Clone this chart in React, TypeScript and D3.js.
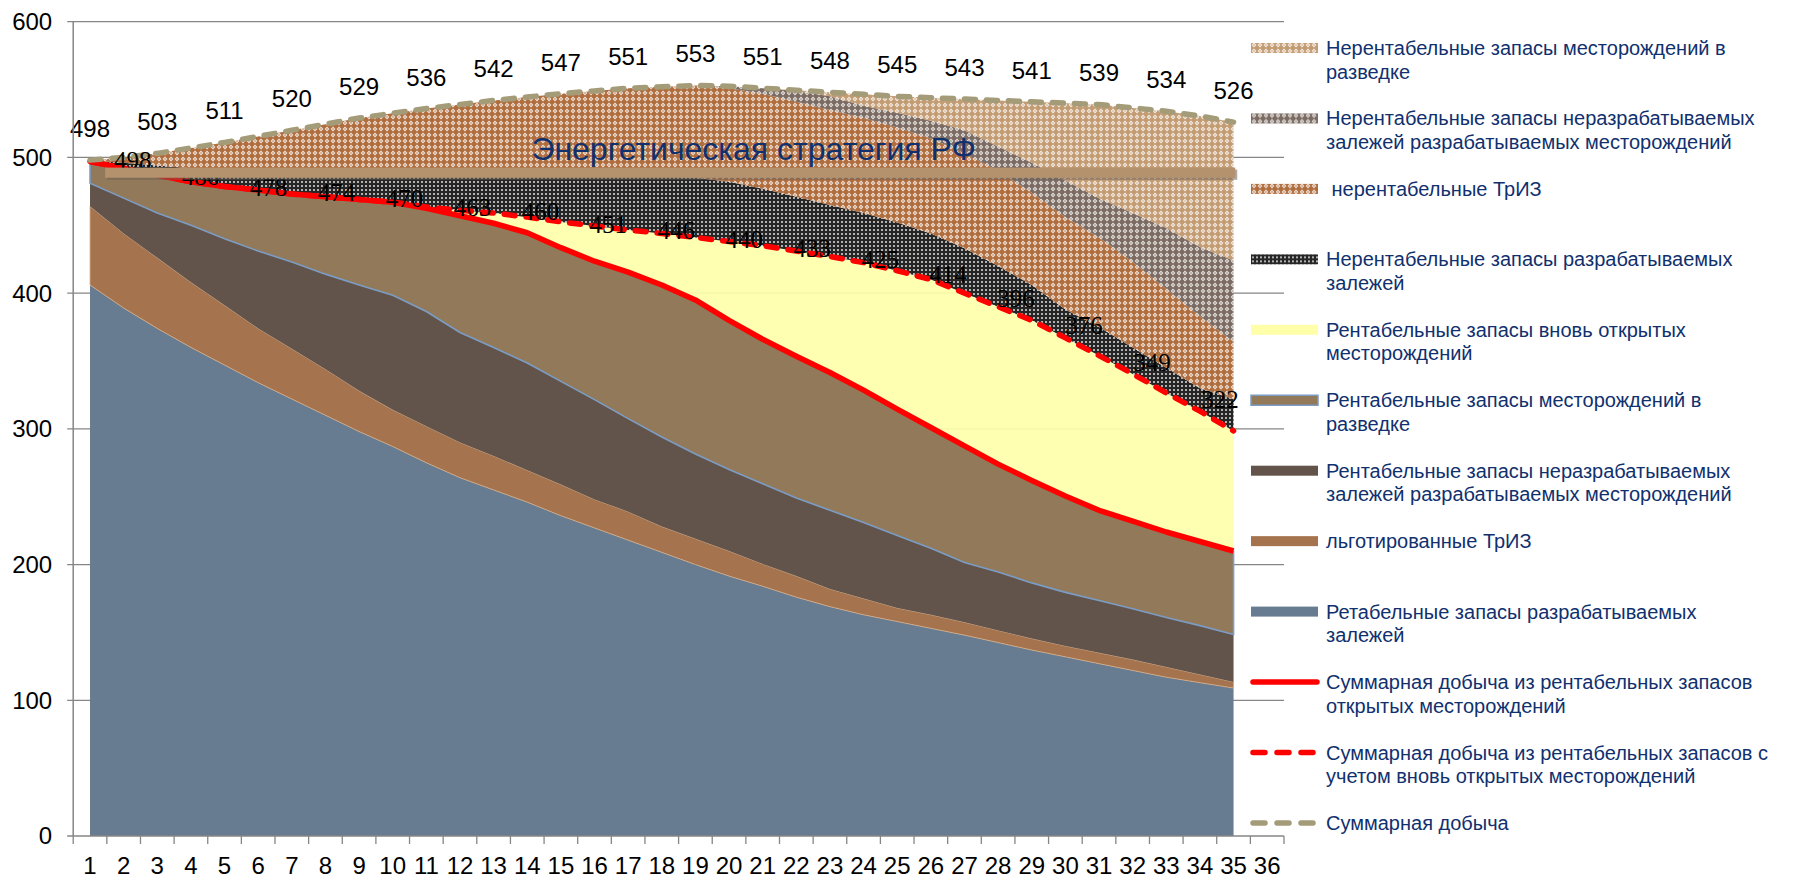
import * as d3 from "d3";
import { useEffect, useRef } from "react";

const categories = [
  "1", "2", "3", "4", "5", "6", "7", "8", "9", "10", "11", "12",
  "13", "14", "15", "16", "17", "18", "19", "20", "21", "22", "23", "24",
  "25", "26", "27", "28", "29", "30", "31", "32", "33", "34", "35", "36",
];

// stacked layers, bottom to top (values for categories 1..35)
const developedReserves = [406, 389, 374, 360, 347, 334, 322, 310, 298, 287, 275, 264, 255, 246, 236, 227, 218, 209, 200, 191.5, 184, 176, 169, 163, 158, 153, 148, 142.5, 137, 132, 127, 122, 117, 113, 109];
const preferentialTriz = [58, 55, 52, 48, 44, 40, 37, 34, 30, 27, 27, 26, 25, 23.5, 23, 21, 21, 19, 19, 18.5, 16.5, 15.5, 13, 12, 10, 10, 9.5, 9, 8.5, 8, 8, 8, 7.5, 6, 4.5];
const undevelopedDeposits = [17, 26, 33, 42, 49, 57, 64, 70, 78, 84.5, 84.5, 81, 80, 79, 76, 73.5, 68.5, 66, 62.5, 60, 59, 57.5, 58, 56, 53.5, 49, 44, 43, 41, 39.5, 38.5, 37.5, 36.5, 36, 35];
const explorationFields = [16, 22, 28, 32, 38.5, 45, 50, 57, 63, 68.5, 76, 86, 91.5, 96, 98.5, 102, 108, 112, 113.5, 110, 106.5, 104.5, 101.5, 97.5, 93, 89, 86, 79.5, 75.5, 71, 66.5, 64.5, 63, 62, 61.5];
const newFields = [0, 0, 0, 0, 0, 0, 0, 0, 0, 0, 1, 4, 7.5, 11.5, 19, 26, 31, 38, 46, 58, 69, 77.5, 85.5, 94, 102, 109, 112.5, 116, 118, 116.5, 114, 108.5, 102.5, 96, 88.5];
const unprofitDeveloped = [0.5, 4, 7, 10, 12.5, 14, 16.5, 18, 20, 21.5, 24.5, 27, 28.5, 31.5, 34.5, 37.5, 40.5, 42, 44, 44, 42, 40, 38, 36.5, 35.5, 34, 33, 30, 26, 21, 21, 19.5, 18.5, 17, 23.5];
const unprofitTriz = [0.5, 4, 9, 15, 20, 25.5, 30.5, 35.5, 40, 44, 48, 51, 54.5, 57, 60, 62, 64, 66, 68, 69, 70, 70, 70, 70, 70, 70, 70, 70, 68, 68, 66, 63, 58, 53, 42];
const unprofitUndeveloped = [0, 0, 0, 0, 0, 0, 0, 0, 0, 0, 0, 0, 0, 0, 0, 0, 0, 0, 0, 1.5, 4, 8, 10, 9, 11, 13, 17, 18, 22, 27, 29, 36, 45, 51, 60];
const unprofitExploration = [0, 0, 0, 0, 0, 0, 0, 0, 0, 0, 0, 0, 0, 0, 0, 0, 0, 0, 0, 0, 0, 0.5, 3, 8.5, 12, 17, 23, 34, 45, 57, 69, 77.5, 86, 96.5, 102];

const totalLabelCats = [1, 3, 5, 7, 9, 11, 13, 15, 17, 19, 21, 23, 25, 27, 29, 31, 33, 35];
const totalLabels = [498, 503, 511, 520, 529, 536, 542, 547, 551, 553, 551, 548, 545, 543, 541, 539, 534, 526];
const profitLabelCats = [2, 4, 6, 8, 10, 12, 14, 16, 18, 20, 22, 24, 26, 28, 30, 32, 34];
const profitLabels = [498, 486, 478, 474, 470, 463, 460, 451, 446, 440, 433, 425, 414, 396, 376, 349, 322];

const yTicks = [0, 100, 200, 300, 400, 500, 600];
const strategyBand = [485, 492.5];
const strategySpan = [1.45, 35.05];
const strategyTitle = "Энергетическая стратегия РФ";

const W = 1802;
const H = 879;

export default function App() {
  const svgRef = useRef<SVGSVGElement>(null);

  useEffect(() => {
    if (!svgRef.current) return;
    const svg = d3.select(svgRef.current);
    svg.selectAll("*").remove();

    const left = 73.2;
    const right = 1284;
    const top = 21.7;
    const bottom = 836;
    const sans = "'Liberation Sans', Arial, sans-serif";
    const serif = "'Liberation Serif', 'Times New Roman', serif";
    const axisColor = "#868686";
    const navy = "#10306e";

    const x = d3.scaleLinear().domain([0.5, 36.5]).range([left, right]);
    const y = d3.scaleLinear().domain([0, 600]).range([bottom, top]);

    // patterns
    const defs = svg.append("defs");
    const lattice = (id: string, base: string) => {
      const p = defs
        .append("pattern")
        .attr("id", id)
        .attr("patternUnits", "userSpaceOnUse")
        .attr("width", 6)
        .attr("height", 6);
      p.append("rect").attr("width", 6).attr("height", 6).attr("fill", base);
      p.append("path")
        .attr("d", "M3,0.6 L5.4,3 L3,5.4 L0.6,3Z")
        .attr("fill", "#fff")
        .attr("opacity", 0.8);
      p.append("rect").attr("x", 2.4).attr("y", 2.4).attr("width", 1.2).attr("height", 1.2).attr("fill", base);
    };
    lattice("p-tan", "#c39c74");
    lattice("p-gray", "#7b6b62");
    lattice("p-copper", "#b06d3e");
    const dots = defs
      .append("pattern")
      .attr("id", "p-dots")
      .attr("patternUnits", "userSpaceOnUse")
      .attr("width", 4)
      .attr("height", 4);
    dots.append("rect").attr("width", 4).attr("height", 4).attr("fill", "#262626");
    dots.append("circle").attr("cx", 2).attr("cy", 2).attr("r", 0.95).attr("fill", "#ececec");

    const layers = [
      { key: "developed", values: developedReserves, fill: "#687c91", stroke: "none" },
      { key: "triz", values: preferentialTriz, fill: "#a5734d", stroke: "#d6ad88" },
      { key: "undeveloped", values: undevelopedDeposits, fill: "#62544b", stroke: "none" },
      { key: "exploration", values: explorationFields, fill: "#927959", stroke: "#7b9cc4" },
      { key: "newFields", values: newFields, fill: "#ffffaa", stroke: "none" },
      { key: "uDeveloped", values: unprofitDeveloped, fill: "url(#p-dots)", stroke: "none" },
      { key: "uTriz", values: unprofitTriz, fill: "url(#p-copper)", stroke: "none" },
      { key: "uUndeveloped", values: unprofitUndeveloped, fill: "url(#p-gray)", stroke: "none" },
      { key: "uExploration", values: unprofitExploration, fill: "url(#p-tan)", stroke: "none" },
    ];

    const rows = developedReserves.map((_, i) => {
      const r: Record<string, number> = { cat: i + 1 };
      layers.forEach((l) => (r[l.key] = l.values[i]));
      return r;
    });
    const stacked = d3.stack<Record<string, number>>().keys(layers.map((l) => l.key))(rows);

    const g = svg.append("g");

    // grid
    g.append("g")
      .selectAll("line")
      .data(yTicks.filter((t) => t > 0))
      .enter()
      .append("line")
      .attr("x1", left - 6)
      .attr("x2", right)
      .attr("y1", (d) => y(d))
      .attr("y2", (d) => y(d))
      .style("stroke", axisColor)
      .style("stroke-width", 1.3);

    const area = d3
      .area<d3.SeriesPoint<Record<string, number>>>()
      .x((d) => x(d.data.cat))
      .y0((d) => y(d[0]))
      .y1((d) => y(d[1]));

    stacked.forEach((s, i) => {
      g.append("path")
        .datum(s)
        .attr("d", area)
        .style("fill", layers[i].fill)
        .style("fill-opacity", layers[i].key === "newFields" ? 0.92 : 1)
        .style("stroke", layers[i].stroke)
        .style("stroke-width", layers[i].key === "triz" ? 0.8 : 1.6);
    });

    const topLine = (idx: number) =>
      d3
        .line<d3.SeriesPoint<Record<string, number>>>()
        .x((d) => x(d.data.cat))
        .y((d) => y(d[1]))(stacked[idx]);

    g.append("path")
      .attr("d", topLine(3))
      .style("fill", "none")
      .style("stroke", "#ff0000")
      .style("stroke-width", 5.5)
      .style("stroke-linejoin", "round");
    g.append("path")
      .attr("d", topLine(4))
      .style("fill", "none")
      .style("stroke", "#ff0000")
      .style("stroke-width", 5.5)
      .style("stroke-dasharray", "11 11")
      .style("stroke-linecap", "round");
    g.append("path")
      .attr("d", topLine(8))
      .style("fill", "none")
      .style("stroke", "#a49b78")
      .style("stroke-width", 5.5)
      .style("stroke-dasharray", "11 11")
      .style("stroke-linecap", "round");

    // labels along the profitable line
    const labelX = d3
      .scaleLinear()
      .domain([2, 34])
      .range([x(2) + 9, x(34) + 20]);
    g.append("g")
      .selectAll("text")
      .data(profitLabels)
      .enter()
      .append("text")
      .attr("x", (_, i) => labelX(profitLabelCats[i]))
      .attr("y", (d) => y(d))
      .attr("dy", "0.35em")
      .attr("text-anchor", "middle")
      .style("font-family", serif)
      .style("font-size", "25px")
      .style("fill", "#000")
      .text((d) => d);

    // strategy bar
    g.append("rect")
      .attr("x", x(strategySpan[0]) + 2)
      .attr("y", y(strategyBand[1]) + 2)
      .attr("width", x(strategySpan[1]) - x(strategySpan[0]))
      .attr("height", y(strategyBand[0]) - y(strategyBand[1]))
      .style("fill", "#6f6356")
      .style("opacity", 0.55);
    g.append("rect")
      .attr("x", x(strategySpan[0]))
      .attr("y", y(strategyBand[1]))
      .attr("width", x(strategySpan[1]) - x(strategySpan[0]))
      .attr("height", y(strategyBand[0]) - y(strategyBand[1]))
      .style("fill", "#b4926e");
    g.append("text")
      .attr("x", x(20.73))
      .attr("y", y(strategyBand[1]) - 8)
      .attr("text-anchor", "middle")
      .style("font-family", sans)
      .style("font-size", "32px")
      .style("fill", navy)
      .text(strategyTitle);

    // total labels
    g.append("g")
      .selectAll("text")
      .data(totalLabels)
      .enter()
      .append("text")
      .attr("x", (_, i) => x(totalLabelCats[i]))
      .attr("y", (d) => y(d) - 23)
      .attr("text-anchor", "middle")
      .style("font-family", sans)
      .style("font-size", "24px")
      .style("fill", "#000")
      .text((d) => d);

    // axes
    g.append("line")
      .attr("x1", left)
      .attr("x2", left)
      .attr("y1", top)
      .attr("y2", bottom)
      .style("stroke", axisColor)
      .style("stroke-width", 1.5);
    g.append("line")
      .attr("x1", left - 6)
      .attr("x2", right)
      .attr("y1", bottom)
      .attr("y2", bottom)
      .style("stroke", axisColor)
      .style("stroke-width", 1.5);
    g.append("g")
      .selectAll("line")
      .data(d3.range(0, categories.length + 1))
      .enter()
      .append("line")
      .attr("x1", (d) => x(d + 0.5))
      .attr("x2", (d) => x(d + 0.5))
      .attr("y1", bottom)
      .attr("y2", bottom + 8)
      .style("stroke", axisColor)
      .style("stroke-width", 1.3);
    g.append("g")
      .selectAll("text")
      .data(yTicks)
      .enter()
      .append("text")
      .attr("x", left - 21)
      .attr("y", (d) => y(d))
      .attr("dy", "0.35em")
      .attr("text-anchor", "end")
      .style("font-family", sans)
      .style("font-size", "24px")
      .style("fill", "#000")
      .text((d) => d);
    g.append("g")
      .selectAll("text")
      .data(categories)
      .enter()
      .append("text")
      .attr("x", (_, i) => x(i + 1))
      .attr("y", bottom + 37.5)
      .attr("text-anchor", "middle")
      .style("font-family", sans)
      .style("font-size", "24px")
      .style("fill", "#000")
      .text((d) => d);

    // legend
    const legendItems = [
      { lines: ["Нерентабельные запасы месторождений в", "разведке"], fill: "url(#p-tan)" },
      { lines: ["Нерентабельные запасы неразрабатываемых", "залежей разрабатываемых месторождений"], fill: "url(#p-gray)" },
      { lines: [" нерентабельные ТрИЗ"], fill: "url(#p-copper)" },
      { lines: ["Нерентабельные запасы разрабатываемых", "залежей"], fill: "url(#p-dots)" },
      { lines: ["Рентабельные запасы вновь открытых", "месторождений"], fill: "#ffffaa" },
      { lines: ["Рентабельные запасы месторождений в", "разведке"], fill: "#927959", border: "#7b9cc4" },
      { lines: ["Рентабельные запасы неразрабатываемых", "залежей разрабатываемых месторождений"], fill: "#62544b" },
      { lines: ["льготированные ТрИЗ"], fill: "#a5734d" },
      { lines: ["Ретабельные запасы разрабатываемых", "залежей"], fill: "#687c91" },
      { lines: ["Суммарная добыча из рентабельных запасов", "открытых месторождений"], line: "#ff0000" },
      { lines: ["Суммарная добыча из рентабельных запасов с", "учетом вновь открытых месторождений"], line: "#ff0000", dash: true },
      { lines: ["Суммарная добыча"], line: "#a49b78", dash: true },
    ];
    const legend = svg.append("g").attr("transform", "translate(1251, 48)");
    legendItems.forEach((item, i) => {
      const it = legend.append("g").attr("transform", `translate(0, ${i * 70.45})`);
      if (item.line) {
        it.append("line")
          .attr("x1", 2)
          .attr("x2", item.dash ? 63 : 66)
          .attr("y1", 0)
          .attr("y2", 0)
          .style("stroke", item.line)
          .style("stroke-width", 5.5)
          .style("stroke-linecap", "round")
          .style("stroke-dasharray", item.dash ? "12 12" : null);
      } else {
        it.append("rect")
          .attr("x", 0)
          .attr("y", -5)
          .attr("width", 67)
          .attr("height", 10)
          .style("fill", item.fill!)
          .style("stroke", item.border || "none")
          .style("stroke-width", 1.5);
      }
      item.lines.forEach((t, j) => {
        it.append("text")
          .attr("x", 75)
          .attr("y", j * 23.5 + 7)
          .style("font-family", sans)
          .style("font-size", "20px")
          .style("fill", navy)
          .style("white-space", "pre")
          .text(t);
      });
    });
  }, []);

  return (
    <svg
      ref={svgRef}
      width={W}
      height={H}
      style={{ position: "absolute", left: 0, top: 0, background: "#fff" }}
    />
  );
}
